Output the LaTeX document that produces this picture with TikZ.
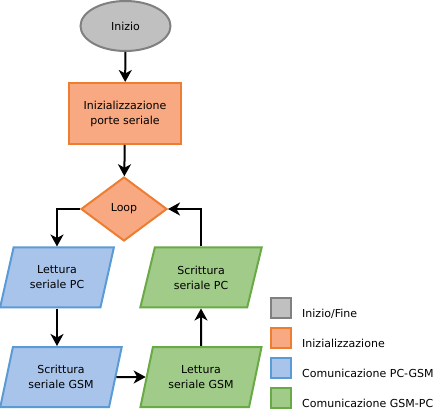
\documentclass[tikz,border=0pt]{standalone}
\usepackage{fontspec}
\setmainfont{DejaVu Sans}
\usetikzlibrary{shapes.geometric,arrows.meta}
\definecolor{gfill}{HTML}{C0C0C0}
\definecolor{gline}{HTML}{808080}
\definecolor{ofill}{HTML}{F8A982}
\definecolor{oline}{HTML}{ED7D31}
\definecolor{bfill}{HTML}{A9C4EB}
\definecolor{bline}{HTML}{5B9BD5}
\definecolor{vfill}{HTML}{A1CB88}
\definecolor{vline}{HTML}{6AAA46}
\tikzset{
  base/.style={line width=2pt, inner sep=0pt, align=center, font=\fontsize{11}{15}\selectfont},
  startbox/.style={base, ellipse, draw=gline, fill=gfill, minimum width=90pt, minimum height=50pt},
  initbox/.style={base, rectangle, draw=oline, fill=ofill, minimum width=112pt, minimum height=61pt},
  loopbox/.style={base, diamond, draw=oline, fill=ofill, minimum width=86pt, minimum height=64pt},
  para/.style={base, trapezium, trapezium left angle=70, trapezium right angle=110, trapezium stretches=true, minimum height=60pt},
  pcgsm/.style={para, draw=bline, fill=bfill},
  gsmpc/.style={para, draw=vline, fill=vfill},
  legsq/.style={line width=2pt, minimum width=20pt, minimum height=20pt, inner sep=0pt},
  legtxt/.style={anchor=base west, inner sep=0pt, font=\fontsize{11}{15}\selectfont},
  conn/.style={line width=2pt, -{Stealth[length=12pt, width=13pt, inset=3.5pt]}},
}
\begin{document}
\begin{tikzpicture}[x=1pt, y=-1pt]
\useasboundingbox (0,0) rectangle (436,411);
\node[startbox] (start) at (125.5,26) {Inizio};
\node[initbox] (init) at (125,113.5) {Inizializzazione\\porte seriale};
\node[loopbox] (loop) at (124,209) {Loop};
\node[pcgsm, minimum width=114pt] (lpc) at (57,277.5) {Lettura\\seriale PC};
\node[pcgsm, minimum width=122pt] (sgsm) at (61,377) {Scrittura\\seriale GSM};
\node[gsmpc, minimum width=122pt] (spc) at (201,277.5) {Scrittura\\seriale PC};
\node[gsmpc, minimum width=122pt] (lgsm) at (201,377) {Lettura\\seriale GSM};
\draw[conn] (start) -- (init);
\draw[conn] (init) -- (loop);
\draw[conn] (loop.west) -| (lpc.north);
\draw[conn] (lpc.south) -- (lpc.south |- sgsm.north);
\draw[conn] (sgsm.east) -- (lgsm.west);
\draw[conn] (lgsm.north) -- (spc.south);
\draw[conn] (spc.north) |- (loop.east);
\node[legsq, draw=gline, fill=gfill] (l1) at (281,308) {};
\node[legsq, draw=oline, fill=ofill] (l2) at (281,338) {};
\node[legsq, draw=bline, fill=bfill] (l3) at (281,368) {};
\node[legsq, draw=vline, fill=vfill] (l4) at (281,398) {};
\node[legtxt] (t1) at (302,317.5) {Inizio/Fine};
\node[legtxt] (t2) at (302,347.5) {Inizializzazione};
\node[legtxt] (t3) at (302,377.5) {Comunicazione PC-GSM};
\node[legtxt] (t4) at (302,407.5) {Comunicazione GSM-PC};
\end{tikzpicture}
\end{document}
